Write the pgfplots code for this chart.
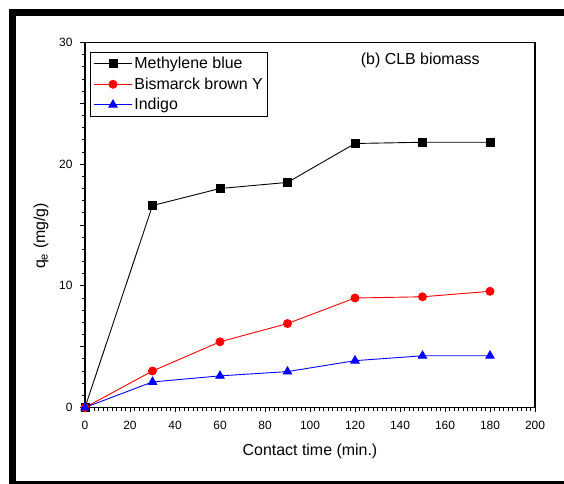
\documentclass[border=0pt]{standalone}
\usepackage{fontspec}
\setmainfont{Liberation Sans}
\usepackage{pgfplots}
\pgfplotsset{compat=1.18}
\begin{document}
\begin{tikzpicture}
\useasboundingbox (0,0) rectangle (564bp,484bp);
\fill[black] (9bp,468bp) rectangle (564bp,475bp);
\fill[black] (9bp,0bp) rectangle (16bp,475bp);
\fill[black] (9bp,0bp) rectangle (564bp,3bp);
\begin{axis}[
  at={(85bp,76.5bp)}, anchor=south west,
  scale only axis, width=450bp, height=365bp,
  xmin=0, xmax=200, ymin=0, ymax=30,
  xtick={0,20,...,200}, minor x tick num=9,
  ytick={0,5,...,30}, yticklabels={0,,10,,20,,30}, minor y tick num=4,
  tick align=outside, tick pos=left,
  major tick length=5bp, minor tick length=3.5bp,
  axis line style={line width=1.1bp},
  every tick/.style={black, line width=0.9bp},
  /pgf/number format/assume math mode=true,
  ticklabel style={font=\fontsize{12}{14}\selectfont},
  xticklabel style={yshift=-5bp},
  yticklabel style={xshift=-4bp},
  xlabel={Contact time (min.)},
  ylabel={q\textsubscript{e} (mg/g)},
  label style={font=\fontsize{16}{19}\selectfont},
  xlabel style={at={(axis description cs:0.5,-0.119)}, anchor=center},
  ylabel style={at={(axis description cs:-0.098,0.47)}, anchor=center},
  legend style={at={(0.011,0.975)}, anchor=north west, draw=black, line width=1.2bp,
    font=\fontsize{16}{19}\selectfont, inner xsep=3bp, inner ysep=3bp,
    row sep=3.5bp, cells={anchor=west}},
  legend image code/.code={\draw[mark repeat=2,mark phase=2,line width=0.9bp] plot coordinates {(0bp,0bp)(19bp,0bp)(38bp,0bp)};},
]
\addplot[black, line width=0.9bp, mark=square*, mark size=4bp, mark options={solid}]
  coordinates {(0,0) (30,16.6) (60,18.0) (90,18.5) (120,21.7) (150,21.8) (180,21.8)};
\addlegendentry{Methylene blue}
\addplot[red, line width=0.9bp, mark=*, mark size=4bp, mark options={solid}]
  coordinates {(0,0) (30,3.0) (60,5.4) (90,6.9) (120,9.0) (150,9.1) (180,9.55)};
\addlegendentry{Bismarck brown Y}
\addplot[blue, line width=0.9bp, mark=triangle*, mark size=4.8bp, mark options={solid}]
  coordinates {(0,0) (30,2.1) (60,2.6) (90,2.95) (120,3.85) (150,4.25) (180,4.25)};
\addlegendentry{Indigo}
\node[font=\fontsize{16}{19}\selectfont] at (axis cs:149,28.5) {(b) CLB biomass};
\end{axis}
\end{tikzpicture}
\end{document}
